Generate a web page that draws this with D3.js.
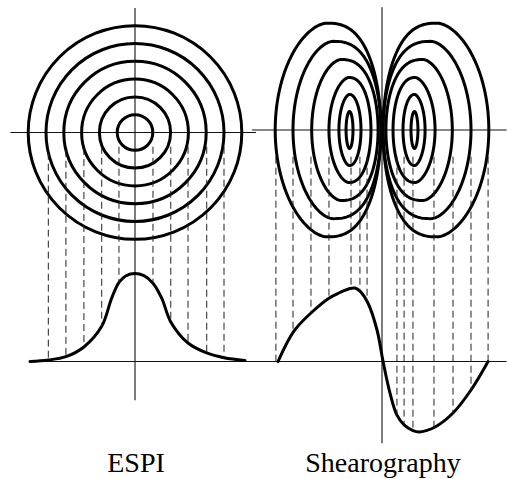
<!DOCTYPE html>
<html>
<head>
<meta charset="utf-8">
<script src="https://cdn.jsdelivr.net/npm/d3@7"></script>
<style>
  body { margin: 0; background: #fff; }
</style>
</head>
<body>
<script>
// ESPI: fringe rings (radius in fringe units) and the dashed projection lines
const espiRings = [1, 2, 3, 4, 5, 6];
const espiDashX = [-4.87, -3.88, -2.87, -1.87, -0.9, 1.01, 2.01, 2.98, 4.03, 5.0];
// ESPI displacement profile
const espiProfileX = [-5.9, -4.87, -3.88, -2.87, -1.87, -1.31, -0.9, -0.5, 0, 0.5, 1.01, 1.5, 2.01, 2.98, 4.03, 5.0, 6.18];
const espiProfileY = [0, 0.017, 0.055, 0.165, 0.40, 0.72, 0.90, 0.975, 1.0, 0.975, 0.89, 0.72, 0.45, 0.21, 0.097, 0.043, 0.012];

// Shearography: left lobe loops (right lobe is the mirror image)
const shearOuter = [-6.0, -5.0, -3.95, -2.98, -2.42, -2.02];
const shearInner = [-0.06, -0.06, -0.22, -0.62, -1.18, -1.63];
const shearHalfH = [6.0, 4.98, 3.96, 2.95, 2.0, 1.04];
const shearTopX = [-3.1, -2.75, -2.3, -1.85, -1.82, -1.83];
const shearDashX = [-5.96, -5.0, -3.99, -2.98, -1.74, -1.24, -0.84, 0.84, 1.24, 1.74, 2.92, 3.99, 5.0, 5.96];
// derivative profile
const shearProfileX = [-5.84, -4.94, -3.93, -2.98, -2.36, -1.8, -1.52, -1.24, -0.79, -0.28, 0.06, 0.45, 0.84, 1.24, 1.74, 2.13, 2.98, 3.99, 5.0, 5.96];
const shearProfileY = [0, 0.347, 0.5625, 0.72, 0.784, 0.83, 0.835, 0.80, 0.665, 0.358, 0, -0.36, -0.61, -0.72, -0.785, -0.80, -0.744, -0.585, -0.324, 0];

const labels = ["ESPI", "Shearography"];

let width = 507,
    height = 479;

let svg = d3.select("body")
    .append("svg")
    .attr("width", width)
    .attr("height", height);

const unit = 17.8;
const xEspi = d3.scaleLinear().domain([-7, 7]).range([135 - 7 * unit, 135 + 7 * unit]);
const xShear = d3.scaleLinear().domain([-7, 7]).range([382 - 7 * unit, 382 + 7 * unit]);
const yEspiTop = d3.scaleLinear().domain([-7, 7]).range([132.5 + 7 * unit, 132.5 - 7 * unit]);
const yShearTop = d3.scaleLinear().domain([-7, 7]).range([130 + 7 * unit, 130 - 7 * unit]);
const yProfile = d3.scaleLinear().domain([-1, 1]).range([361.5 + 88, 361.5 - 88]);

const thin = { stroke: "#111", "stroke-width": 1.1, fill: "none" };
function applyAttrs(sel, obj) {
    Object.keys(obj).forEach(k => sel.attr(k, obj[k]));
    return sel;
}

// axes
applyAttrs(svg.append("line"), thin)
    .attr("x1", xEspi(-7)).attr("x2", xEspi(6.8))
    .attr("y1", yEspiTop(0)).attr("y2", yEspiTop(0));
applyAttrs(svg.append("line"), thin)
    .attr("x1", xEspi(0)).attr("x2", xEspi(0))
    .attr("y1", yEspiTop(7)).attr("y2", yProfile(-0.44));
applyAttrs(svg.append("line"), thin)
    .attr("x1", xShear(-7.3)).attr("x2", xShear(7))
    .attr("y1", yShearTop(0)).attr("y2", yShearTop(0));
applyAttrs(svg.append("line"), thin)
    .attr("x1", xShear(0)).attr("x2", xShear(0))
    .attr("y1", yShearTop(6.9)).attr("y2", yProfile(-0.93));
// baselines of the profiles
applyAttrs(svg.append("line"), thin)
    .attr("x1", xEspi(-5.9)).attr("x2", xEspi(7))
    .attr("y1", yProfile(0)).attr("y2", yProfile(0));
applyAttrs(svg.append("line"), thin)
    .attr("x1", xShear(-7.4)).attr("x2", xShear(7))
    .attr("y1", yProfile(0)).attr("y2", yProfile(0));

// ESPI rings
svg.selectAll("circle.ring")
    .data(espiRings)
    .enter().append("circle")
    .attr("class", "ring")
    .attr("cx", xEspi(0))
    .attr("cy", yEspiTop(0))
    .attr("r", d => xEspi(d) - xEspi(0))
    .attr("fill", "none")
    .attr("stroke", "#000")
    .attr("stroke-width", 3);

// shearography loops: egg shapes, the side toward the centre pressed flatter
function loopPoints(o, i, h, t, mirror) {
    let pts = [];
    let pOut = 1.15;
    let pIn = 0.75 + 0.25 * Math.min(1, Math.abs(i) / 1.2);
    for (let k = 0; k <= 120; k++) {
        let phi = Math.PI / 2 + k / 120 * Math.PI; // outer half
        pts.push([t - (t - o) * Math.pow(Math.abs(Math.cos(phi)), pOut), h * Math.sin(phi)]);
    }
    for (let k = 1; k < 120; k++) {
        let phi = -Math.PI / 2 + k / 120 * Math.PI; // inner half
        pts.push([t + (i - t) * Math.pow(Math.abs(Math.cos(phi)), pIn), h * Math.sin(phi)]);
    }
    if (mirror) pts = pts.map(p => [-p[0], p[1]]);
    return pts;
}
const loopLine = d3.line()
    .x(d => xShear(d[0]))
    .y(d => yShearTop(d[1]))
    .curve(d3.curveLinearClosed);
[false, true].forEach(mirror => {
    shearOuter.forEach((o, j) => {
        svg.append("path")
            .attr("d", loopLine(loopPoints(o, shearInner[j], shearHalfH[j], shearTopX[j], mirror)))
            .attr("fill", "none")
            .attr("stroke", "#000")
            .attr("stroke-width", 3);
    });
});

// profile curves
const espiLine = d3.line()
    .x(d => xEspi(d[0]))
    .y(d => yProfile(d[1]))
    .curve(d3.curveCatmullRom.alpha(0.5));
const shearLine = d3.line()
    .x(d => xShear(d[0]))
    .y(d => yProfile(d[1]))
    .curve(d3.curveCatmullRom.alpha(0.5));

let espiPath = svg.append("path")
    .attr("d", espiLine(espiProfileX.map((x, k) => [x, espiProfileY[k]])))
    .attr("fill", "none").attr("stroke", "#000").attr("stroke-width", 3)
    .attr("stroke-linecap", "round");
let shearPath = svg.append("path")
    .attr("d", shearLine(shearProfileX.map((x, k) => [x, shearProfileY[k]])))
    .attr("fill", "none").attr("stroke", "#000").attr("stroke-width", 3)
    .attr("stroke-linecap", "round");

// find the y of a path at a given screen x (x grows along the path)
function yAt(pathNode, px) {
    let len = pathNode.getTotalLength();
    let lo = 0, hi = len;
    for (let n = 0; n < 40; n++) {
        let mid = (lo + hi) / 2;
        if (pathNode.getPointAtLength(mid).x < px) lo = mid; else hi = mid;
    }
    return pathNode.getPointAtLength(lo).y;
}

// dashed projection lines
const dashed = { stroke: "#222", "stroke-width": 1, "stroke-dasharray": "7,4", fill: "none" };
espiDashX.forEach(x => {
    let r = espiRings.find(v => v >= Math.abs(x) - 0.05);
    let depth = Math.max(Math.sqrt(Math.max(r * r - x * x, 0)), 0.8);
    applyAttrs(svg.append("line"), dashed)
        .attr("x1", xEspi(x)).attr("x2", xEspi(x))
        .attr("y1", yEspiTop(-depth))
        .attr("y2", yAt(espiPath.node(), xEspi(x)));
});
shearDashX.forEach(x => {
    applyAttrs(svg.append("line"), dashed)
        .attr("x1", xShear(x)).attr("x2", xShear(x))
        .attr("y1", yShearTop(-1.5))
        .attr("y2", yAt(shearPath.node(), xShear(x)));
});

// labels
svg.selectAll("text.label")
    .data(labels)
    .enter().append("text")
    .attr("class", "label")
    .attr("x", (d, k) => k == 0 ? xEspi(0) + 1 : xShear(0) + 1)
    .attr("y", 472)
    .attr("text-anchor", "middle")
    .attr("font-family", "'Liberation Serif', 'Times New Roman', serif")
    .attr("font-size", "28px")
    .attr("fill", "#000")
    .text(d => d);
</script>
</body>
</html>
